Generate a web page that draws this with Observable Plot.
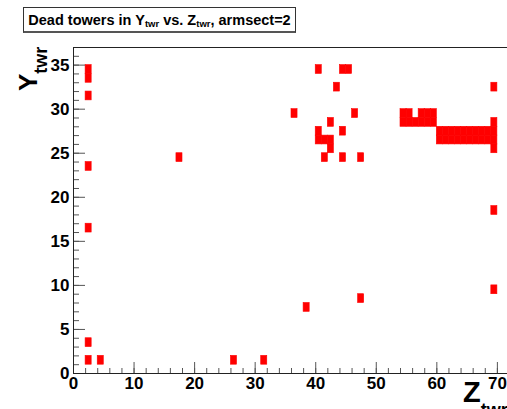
<!DOCTYPE html>
<html>
<head>
<meta charset="utf-8">
<script src="https://cdn.jsdelivr.net/npm/d3@7"></script>
<script src="https://cdn.jsdelivr.net/npm/@observablehq/plot@0.6"></script>
<style>
  html, body { margin: 0; padding: 0; background: #fff; overflow: hidden; width: 507px; height: 409px; }
  #wrap { position: relative; width: 507px; height: 409px; overflow: hidden; }
  #title {
    position: absolute; left: 23px; top: 7px; width: 271px; height: 23px;
    border: 1px solid #333; border-bottom: 2px solid #555; border-right: 1px solid #333;
    background: #fff; display: flex; align-items: center; justify-content: center;
    font: bold 14.5px "Liberation Sans", Arial, Helvetica, sans-serif; color: #000; white-space: nowrap;
    z-index: 2;
  }
  #title .sub { font-size: 9.5px; position: relative; top: 4px; }
  svg { display: block; }
</style>
</head>
<body>
<div id="wrap">
  <div id="title">Dead towers in Y<span class="sub">twr</span>&nbsp;vs. Z<span class="sub">twr</span>, armsect=2</div>
</div>
<script>
// Dead tower cells (bin lower edges)
const zCells = [2, 2, 2, 2, 2, 2, 2, 4, 17, 26, 31, 38, 47,
  69, 69, 69, 69, 69, 69, 69,
  40, 44, 45, 43, 36, 46, 42, 40, 44, 40, 41, 42, 42, 41, 44, 47,
  54, 55, 57, 58, 59,
  54, 55, 56, 57, 58, 59,
  60, 61, 62, 63, 64, 65, 66, 67, 68,
  60, 61, 62, 63, 64, 65, 66, 67, 68];
const yCells = [1, 3, 16, 23, 31, 33, 34, 1, 24, 1, 1, 7, 8,
  9, 18, 32, 25, 26, 27, 28,
  34, 34, 34, 32, 29, 29, 28, 27, 27, 26, 26, 26, 25, 24, 24, 24,
  29, 29, 29, 29, 29,
  28, 28, 28, 28, 28, 28,
  27, 27, 27, 27, 27, 27, 27, 27, 27,
  26, 26, 26, 26, 26, 26, 26, 26, 26];

const xMajorTicks = [0, 10, 20, 30, 40, 50, 60, 70];
const xMinorTicks = d3.range(0, 73, 2);
const yMajorTicks = [0, 5, 10, 15, 20, 25, 30, 35];
const yMinorTicks = d3.range(0, 38, 1);

const cells = zCells.map((z, i) => ({z, y: yCells[i]}));

const font = "'Liberation Sans', Arial, Helvetica, sans-serif";
const tickColor = "#555";

const chart = Plot.plot({
  width: 512,
  height: 409,
  marginLeft: 73,
  marginTop: 47,
  marginBottom: 36,
  marginRight: 3,
  style: {maxWidth: "none", background: "white", fontFamily: font, color: "black", overflow: "hidden"},
  x: {domain: [0, 72]},
  y: {domain: [0, 37]},
  marks: [
    Plot.rect(cells, {x1: "z", x2: d => d.z + 1, y1: "y", y2: d => d.y + 1, fill: "#ff0000", stroke: "#ff0000", strokeWidth: 0.6, inset: 0}),
    Plot.axisX({ticks: xMinorTicks, tickSize: -5, tickFormat: () => "", stroke: tickColor, label: null}),
    Plot.axisX({ticks: xMajorTicks, tickSize: -11, tickFormat: () => "", stroke: tickColor, label: null}),
    Plot.axisX({ticks: xMajorTicks, tickSize: 0, tickPadding: 3, fontSize: 17, fontWeight: "bold", fill: "black", label: null}),
    Plot.axisY({ticks: yMinorTicks, tickSize: -6, tickFormat: () => "", stroke: tickColor, label: null}),
    Plot.axisY({ticks: yMajorTicks, tickSize: -12, tickFormat: () => "", stroke: tickColor, label: null}),
    Plot.axisY({ticks: yMajorTicks, tickSize: 0, tickPadding: 4, fontSize: 17, fontWeight: "bold", fill: "black", label: null}),
    Plot.frame({stroke: "#222"})
  ]
});

const svg = d3.select(chart);
// Y axis title with subscript
const yt = svg.append("text")
  .attr("transform", "translate(37,91) rotate(-90)")
  .attr("text-anchor", "start")
  .attr("font-family", font).attr("font-weight", "bold").attr("font-size", 26).attr("fill", "black");
yt.append("tspan").text("Y");
yt.append("tspan").attr("font-size", 18).attr("dy", 10).text("twr");
// Z axis title with subscript
const zt = svg.append("text")
  .attr("x", 463).attr("y", 402)
  .attr("text-anchor", "start")
  .attr("font-family", font).attr("font-weight", "bold").attr("font-size", 29).attr("fill", "black");
zt.append("tspan").text("Z");
zt.append("tspan").attr("font-size", 18).attr("dy", 14).text("twr");

document.getElementById("wrap").appendChild(chart);
</script>
</body>
</html>
